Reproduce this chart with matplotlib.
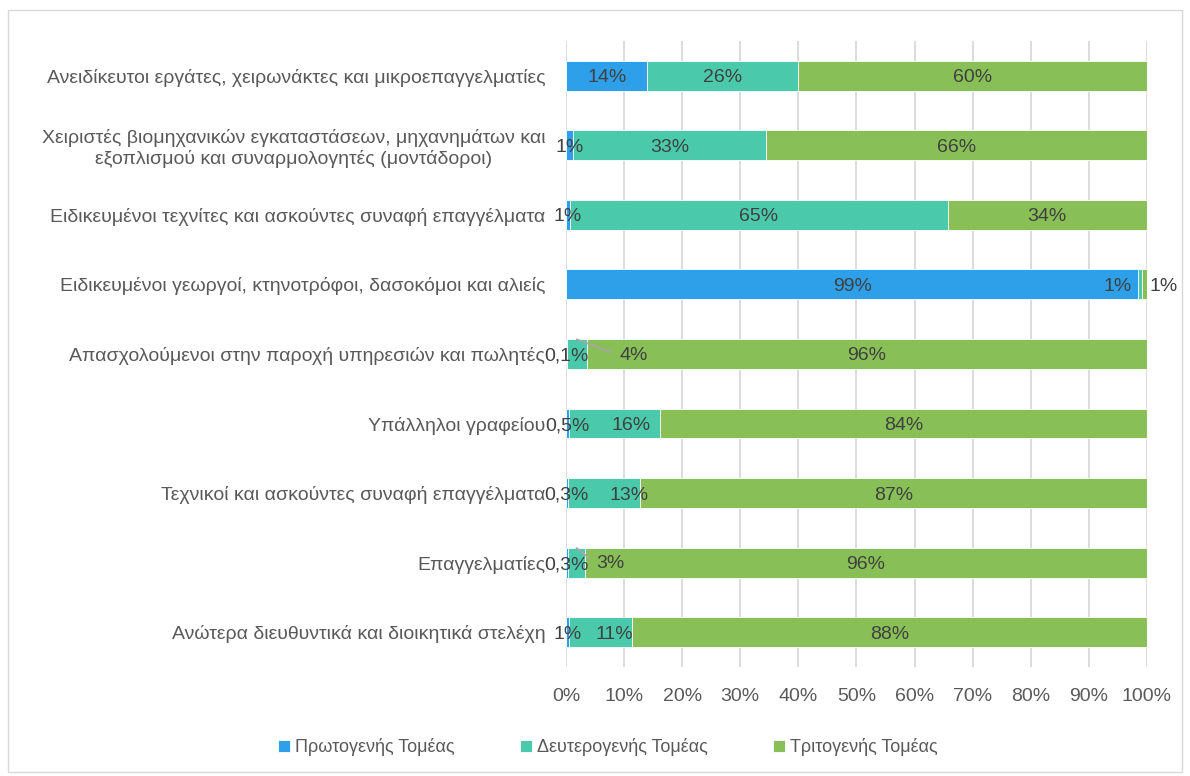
import matplotlib.pyplot as plt
import numpy as np
from matplotlib.patches import Rectangle

plt.rcParams['font.family'] = ['Liberation Sans', 'DejaVu Sans']

# Categories, top to bottom as in the chart
categories = [
    "Ανειδίκευτοι εργάτες, χειρωνάκτες και μικροεπαγγελματίες",
    "Χειριστές βιομηχανικών εγκαταστάσεων, μηχανημάτων και\nεξοπλισμού και συναρμολογητές (μοντάδοροι)",
    "Ειδικευμένοι τεχνίτες και ασκούντες συναφή επαγγέλματα",
    "Ειδικευμένοι γεωργοί, κτηνοτρόφοι, δασοκόμοι και αλιείς",
    "Απασχολούμενοι στην παροχή υπηρεσιών και πωλητές",
    "Υπάλληλοι γραφείου",
    "Τεχνικοί και ασκούντες συναφή επαγγέλματα",
    "Επαγγελματίες",
    "Ανώτερα διευθυντικά και διοικητικά στελέχη",
]

series_names = ["Πρωτογενής Τομέας", "Δευτερογενής Τομέας", "Τριτογενής Τομέας"]

primary = [14, 1.2, 0.7, 98.5, 0.1, 0.5, 0.3, 0.3, 0.6]
secondary = [26, 33.2, 65.0, 0.6, 3.5, 15.7, 12.4, 3.0, 10.8]
tertiary = [60, 65.6, 34.3, 0.9, 96.4, 83.8, 87.3, 96.7, 88.6]

primary_labels = ["14%", "1%", "1%", "99%", "0,1%", "0,5%", "0,3%", "0,3%", "1%"]
secondary_labels = ["26%", "33%", "65%", "1%", "4%", "16%", "13%", "3%", "11%"]
tertiary_labels = ["60%", "66%", "34%", "1%", "96%", "84%", "87%", "96%", "88%"]

colors = ["#2EA0EA", "#4ACAAB", "#88C057"]

# label tweaks: (series index, row index) -> offset in points, leader line
label_offsets = {
    (1, 3): (-16, 0, False),
    (2, 3): (14, 0, False),
    (1, 4): (41, -10, True),
    (1, 5): (12, 0, False),
    (1, 6): (18, 0, False),
    (1, 7): (24.5, -10, True),
    (1, 8): (10, 0, False),
}

fig = plt.figure(figsize=(11.9, 7.76), dpi=100)
ax = fig.add_axes([0.4756, 0.1405, 0.4882, 0.8067])

y = np.arange(len(categories))
values = [primary, secondary, tertiary]
labels = [primary_labels, secondary_labels, tertiary_labels]
left = np.zeros(len(categories))

for s in range(3):
    vals = np.array(values[s])
    ax.barh(y, vals, left=left, height=0.43, color=colors[s],
            label=series_names[s], zorder=3, edgecolor="white", linewidth=0.6)
    for i in range(len(categories)):
        cx = left[i] + vals[i] / 2
        if (s, i) in label_offsets:
            dx, dy, leader = label_offsets[(s, i)]
            if leader:
                ax.annotate(labels[s][i], xy=(cx, y[i] - 0.21),
                            xytext=(dx, dy), textcoords="offset points",
                            ha="center", va="center_baseline", fontsize=14,
                            color="#404040", zorder=5,
                            arrowprops=dict(arrowstyle="-", color="#a6a6a6",
                                            lw=1.3, relpos=(0, 0.5),
                                            shrinkA=4, shrinkB=0))
            else:
                ax.annotate(labels[s][i], xy=(cx, y[i]),
                            xytext=(dx, dy), textcoords="offset points",
                            ha="center", va="center_baseline", fontsize=14,
                            color="#404040", zorder=5)
        else:
            ax.text(cx, y[i], labels[s][i], ha="center", va="center_baseline",
                    fontsize=14, color="#404040", zorder=5)
    left = left + vals

ax.set_xlim(0, 100)
ax.set_ylim(len(categories) - 0.5, -0.5)
ax.set_xticks(np.arange(0, 101, 10))
ax.set_xticklabels([f"{t}%" for t in range(0, 101, 10)])
ax.set_yticks(y)
ax.set_yticklabels(categories, multialignment="center")

ax.tick_params(axis="x", length=0, labelsize=14, labelcolor="#595959", pad=15)
ax.tick_params(axis="y", length=0, labelsize=14, labelcolor="#595959", pad=15)

ax.grid(axis="x", color="#d9d9d9", linewidth=1.3, zorder=0)
for sp in ax.spines.values():
    sp.set_visible(False)

ax.legend(loc="center", bbox_to_anchor=(608 / 1190, 1 - 747 / 776),
          bbox_transform=fig.transFigure, ncol=3, frameon=False,
          fontsize=13, labelcolor="#595959", handlelength=0.65,
          handleheight=0.65, handletextpad=0.3, columnspacing=3.6)

fig.patches.append(Rectangle((8 / 1190, 0.005), 1 - 16 / 1190, 1 - 10 / 776 - 0.005,
                             transform=fig.transFigure, fill=False,
                             edgecolor="#d9d9d9", linewidth=1))

fig.savefig("out.png", dpi=100)
